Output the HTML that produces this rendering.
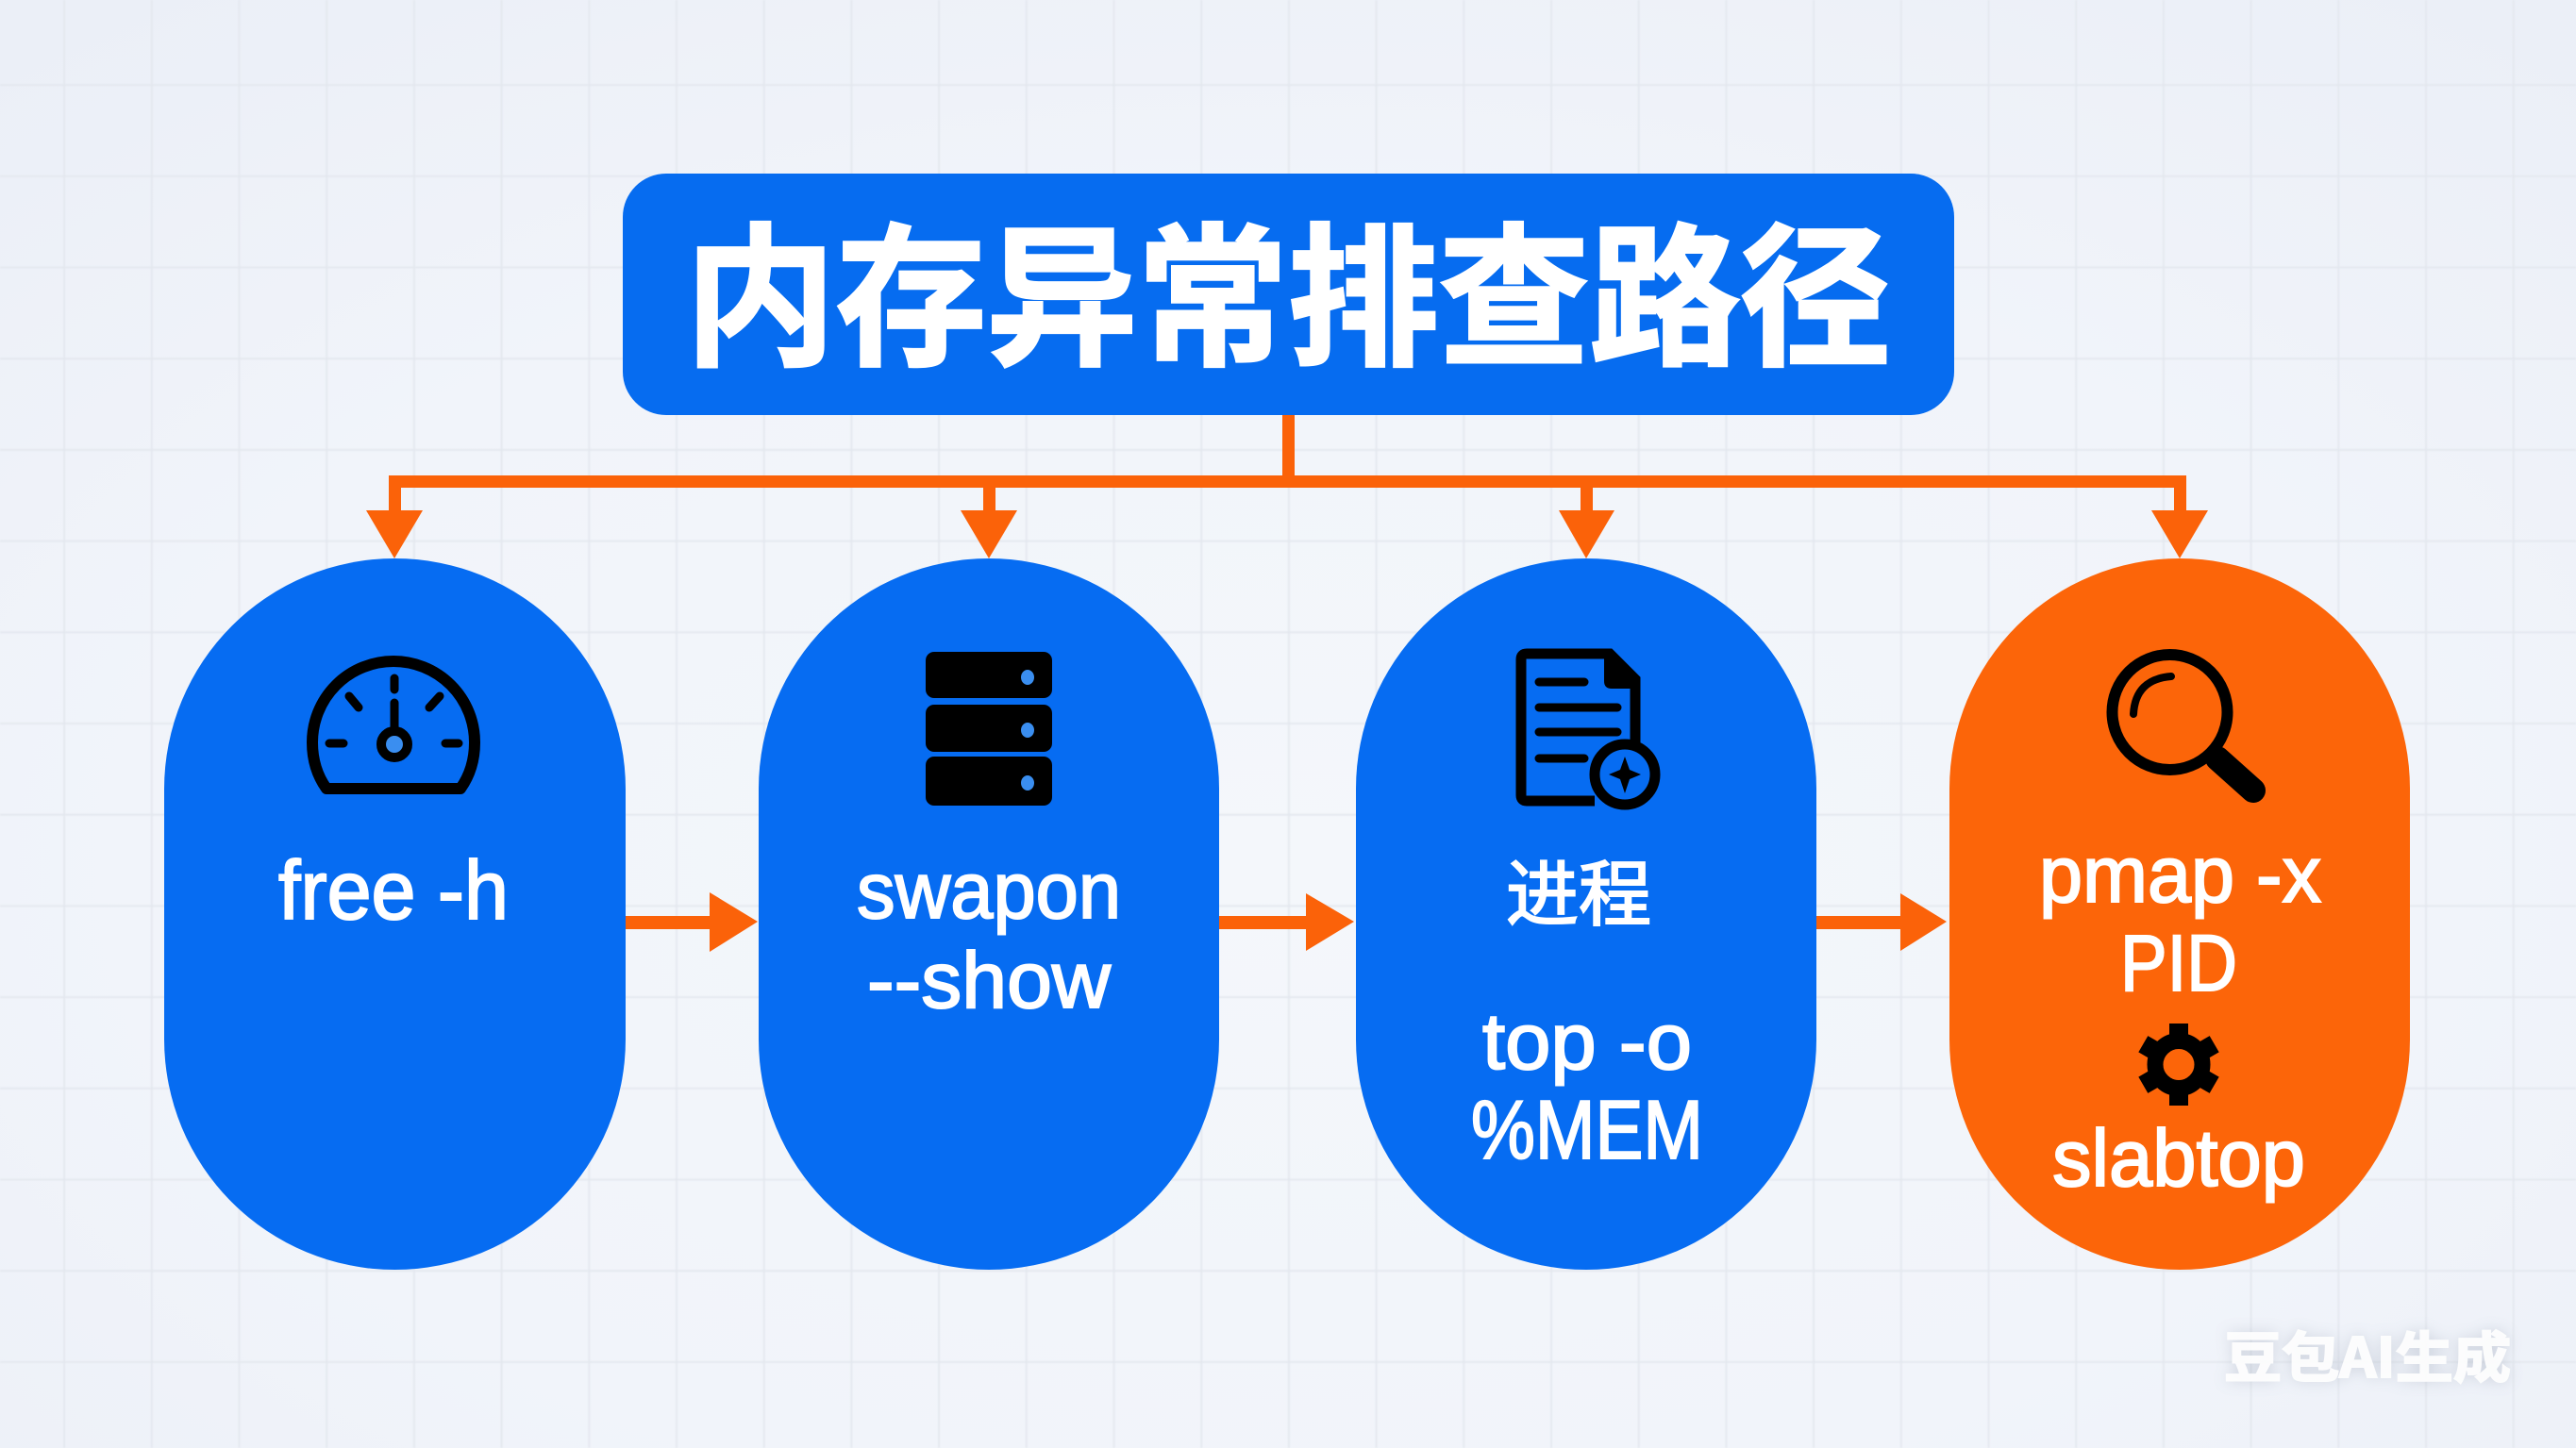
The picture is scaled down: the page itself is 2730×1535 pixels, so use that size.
<!DOCTYPE html>
<html lang="zh"><head><meta charset="utf-8"><title>内存异常排查路径</title>
<style>
html,body{margin:0;padding:0;width:2730px;height:1535px;overflow:hidden;background:#f0f4fa}
svg{display:block}
text{font-family:"Liberation Sans","Noto Sans CJK SC",sans-serif;fill:#fff}
.c{font-family:"Noto Sans CJK SC","Liberation Sans",sans-serif}
.l text{stroke:#fff;stroke-width:2}
</style></head><body>
<svg width="2730" height="1535" viewBox="0 0 2730 1535" xmlns="http://www.w3.org/2000/svg">
<defs>
<pattern id="g" x="-23.7" y="-5.7" width="92.7" height="96.7" patternUnits="userSpaceOnUse">
<path d="M92.7 0V96.7M0 96.7H92.7" stroke="#e3e7ee" stroke-width="3.5" fill="none"/>
</pattern>
<radialGradient id="bg" cx="50%" cy="60%" r="75%">
<stop offset="0" stop-color="#f4f7fb"/><stop offset=".6" stop-color="#f1f4fa"/><stop offset="1" stop-color="#ebeff7"/>
</radialGradient>
<filter id="b" x="-5%" y="-5%" width="110%" height="110%"><feGaussianBlur stdDeviation="0.7"/></filter>
<filter id="ws" x="-20%" y="-40%" width="140%" height="180%"><feGaussianBlur stdDeviation="8"/></filter>
</defs>
<rect width="2730" height="1535" fill="url(#bg)"/>
<rect width="2730" height="1535" fill="url(#g)" filter="url(#b)"/>

<!-- title -->
<rect x="660" y="184" width="1411" height="256" rx="46" fill="#066cf0"/>
<text class="c" x="726" y="374" font-size="163" font-weight="700" textLength="1278" lengthAdjust="spacingAndGlyphs" stroke="#fff" stroke-width="3">内存异常排查路径</text>

<!-- connectors -->
<g fill="#fb6209">
<rect x="1359" y="440" width="13" height="70"/>
<rect x="412" y="504" width="1905" height="13"/>
<rect x="412" y="504" width="13" height="38"/><path d="M388 541H448L418 592Z"/>
<rect x="1042" y="510" width="13" height="32"/><path d="M1018 541H1078L1048 592Z"/>
<rect x="1675" y="510" width="13" height="32"/><path d="M1652 541H1711L1681 592Z"/>
<rect x="2304" y="504" width="13" height="38"/><path d="M2280 541H2340L2310 592Z"/>
<rect x="662" y="971" width="92" height="14"/><path d="M752 946L803 977L752 1009Z"/>
<rect x="1292" y="971" width="94" height="14"/><path d="M1384 947L1435 977L1384 1008Z"/>
<rect x="1925" y="971" width="91" height="14"/><path d="M2014 947L2063 977L2014 1008Z"/>
</g>

<!-- pills -->
<rect x="174" y="592" width="489" height="754" rx="244.5" fill="#066cf2"/>
<rect x="804" y="592" width="488" height="754" rx="244" fill="#066cf2"/>
<rect x="1437" y="592" width="488" height="754" rx="244" fill="#066cf2"/>
<rect x="2066" y="592" width="488" height="754" rx="244" fill="#fc6509"/>

<!-- gauge -->
<g fill="none" stroke="#000">
<path d="M346 836Q331 815 331 787A86 86 0 0 1 503 787Q503 815 488 836Z" stroke-width="12" stroke-linejoin="round"/>
<g stroke-width="9" stroke-linecap="round">
<path d="M418 719V731M418 745V775M370 738L380 750M466 738L455 750"/>
<path d="M349 788H364M472 788H486"/>
</g>
<circle cx="418" cy="789" r="14" stroke-width="10" fill="#3a8ef0"/>
</g>

<!-- server -->
<g fill="#000">
<rect x="981" y="691" width="134" height="49" rx="9"/>
<rect x="981" y="747" width="134" height="50" rx="9"/>
<rect x="981" y="802" width="134" height="52" rx="9"/>
</g>
<g fill="#3a8ef0"><ellipse cx="1089" cy="718" rx="7" ry="8"/><ellipse cx="1089" cy="774" rx="7" ry="8"/><ellipse cx="1089" cy="830" rx="7" ry="8"/></g>

<!-- document -->
<g fill="none" stroke="#000">
<path d="M1690 849H1618Q1612 849 1612 843V699Q1612 693 1618 693H1706L1733 720V790" stroke-width="11"/>
<path d="M1700 692V722Q1700 730 1708 730H1738V718L1708 688Z" fill="#000" stroke="none"/>
<path d="M1631 723H1679M1631 750H1714M1631 776H1714M1631 804H1679" stroke-width="9" stroke-linecap="round"/>
</g>
<circle cx="1722" cy="821" r="32" fill="#066cf2" stroke="#000" stroke-width="11"/>
<path d="M1722 802L1727 816L1739 821L1727 826L1722 841L1717 826L1705 821L1717 816Z" fill="#000"/>

<!-- magnifier -->
<g fill="none" stroke="#000" stroke-linecap="round">
<circle cx="2299.5" cy="755" r="61" stroke-width="12"/>
<path d="M2261 757Q2263 720 2301 717" stroke-width="8"/>
<path d="M2350 804L2388 838" stroke-width="26"/>
</g>

<!-- gear -->
<g fill="#000">
<rect x="2299" y="1085" width="20" height="87"/>
<rect x="2299" y="1085" width="20" height="87" transform="rotate(60 2309 1128.5)"/>
<rect x="2299" y="1085" width="20" height="87" transform="rotate(120 2309 1128.5)"/>
</g>
<circle cx="2309" cy="1128.5" r="25" fill="#fc6509" stroke="#000" stroke-width="17"/>

<!-- labels -->
<g class="l">
<text x="295" y="974" font-size="88" textLength="244" lengthAdjust="spacingAndGlyphs">free -h</text>
<text x="908" y="973" font-size="84" textLength="280" lengthAdjust="spacingAndGlyphs">swapon</text>
<text x="919" y="1068" font-size="84" textLength="258" lengthAdjust="spacingAndGlyphs">--show</text>
<text class="c" x="1596" y="975" font-size="76" textLength="154" lengthAdjust="spacingAndGlyphs">进程</text>
<text x="1571" y="1133" font-size="84" textLength="222" lengthAdjust="spacingAndGlyphs">top -o</text>
<text x="1559" y="1228" font-size="88" textLength="246" lengthAdjust="spacingAndGlyphs">%MEM</text>
<text x="2161" y="956" font-size="84" textLength="299" lengthAdjust="spacingAndGlyphs">pmap -x</text>
<text x="2247" y="1050" font-size="84" textLength="124" lengthAdjust="spacingAndGlyphs">PID</text>
<text x="2175" y="1257" font-size="85" textLength="268" lengthAdjust="spacingAndGlyphs">slabtop</text>
</g>

<!-- watermark -->
<text class="c" x="2357" y="1460" font-size="58" font-weight="700" textLength="304" lengthAdjust="spacingAndGlyphs" style="fill:#8a94a8" opacity=".4" filter="url(#ws)">豆包AI生成</text>
<text class="c" x="2357" y="1460" font-size="58" font-weight="700" textLength="304" lengthAdjust="spacingAndGlyphs" stroke="#fff" stroke-width="2" opacity=".92">豆包AI生成</text>
</svg>
</body></html>
